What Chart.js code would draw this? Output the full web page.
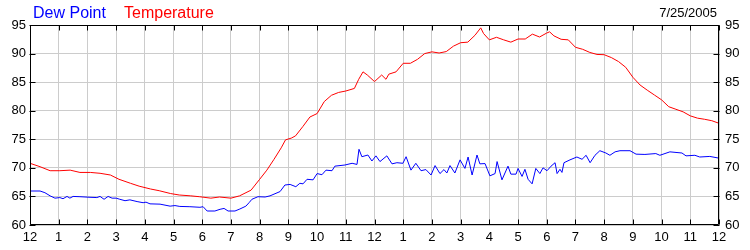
<!DOCTYPE html>
<html>
<head>
<meta charset="utf-8">
<style>
html,body{margin:0;padding:0;background:#fff;}
#wrap{width:750px;height:250px;}
</style>
<script src="https://cdn.jsdelivr.net/npm/chart.js@4/dist/chart.umd.min.js"></script>
</head>
<body>
<div id="wrap"><canvas id="c" width="750" height="250"></canvas></div>
<script>
const dateLabel = '7/25/2005';
const seriesNames = ['Dew Point', 'Temperature'];
const hourTicks = [0,1,2,3,4,5,6,7,8,9,10,11,12,13,14,15,16,17,18,19,20,21,22,23,24];
const yTicks = [60,65,70,75,80,85,90,95];

const tempHours = [0,0.35,0.7,1.04,1.4,1.74,2.1,2.44,2.8,3.1,3.5,3.8,4.2,4.5,4.9,5.2,5.6,5.9,6.3,6.6,7.0,7.3,7.7,8.0,8.25,8.5,8.75,8.9,9.1,9.25,9.5,9.75,10,10.25,10.5,10.75,11,11.3,11.45,11.6,11.75,12,12.25,12.4,12.5,12.75,13,13.25,13.5,13.75,14,14.25,14.5,14.75,15,15.25,15.5,15.7,15.8,16,16.25,16.5,16.75,17,17.25,17.5,17.75,18,18.1,18.25,18.5,18.75,19,19.25,19.5,19.75,20,20.25,20.5,20.75,21,21.25,21.5,21.75,22,22.25,22.5,22.75,23,23.25,23.5,23.75,24];
const tempValues = [70.8,70.2,69.5,69.5,69.6,69.2,69.2,69.05,68.75,68.0,67.3,66.8,66.3,66.0,65.5,65.25,65.1,64.95,64.7,64.9,64.7,65.1,66.1,68.0,69.6,71.5,73.5,74.9,75.2,75.6,77.2,78.9,79.5,81.6,82.7,83.2,83.45,83.9,85.5,86.8,86.25,85.1,86.25,85.5,86.4,86.8,88.3,88.3,89.0,90.0,90.3,90.1,90.35,91.3,91.9,92.0,93.2,94.5,93.5,92.4,92.85,92.4,92.0,92.55,92.55,93.4,92.9,93.6,93.8,93.1,92.5,92.4,91.1,90.75,90.2,89.85,89.8,89.3,88.6,87.6,85.85,84.5,83.6,82.75,81.9,80.7,80.25,79.8,79.1,78.7,78.5,78.25,77.8];

const dewHours = [0,0.35,0.52,0.7,0.87,1.04,1.15,1.29,1.39,1.5,1.74,2.09,2.33,2.44,2.58,2.72,2.86,3.0,3.13,3.31,3.48,3.73,3.94,4.04,4.18,4.53,4.88,5.05,5.22,5.57,5.92,6.03,6.17,6.44,6.62,6.76,6.9,7.14,7.31,7.52,7.63,7.73,7.94,8.19,8.36,8.71,8.88,9.06,9.26,9.4,9.51,9.65,9.86,10.0,10.17,10.31,10.52,10.62,10.97,11.22,11.39,11.46,11.56,11.77,11.91,12.05,12.19,12.43,12.61,12.78,12.99,13.1,13.27,13.44,13.62,13.79,13.97,14.11,14.28,14.42,14.52,14.63,14.8,14.98,15.15,15.26,15.4,15.57,15.67,15.85,16.02,16.2,16.27,16.44,16.65,16.75,16.93,17.0,17.14,17.24,17.35,17.49,17.62,17.76,17.87,18.01,18.15,18.29,18.36,18.46,18.53,18.6,18.81,19.05,19.23,19.37,19.51,19.68,19.85,20.06,20.2,20.38,20.55,20.9,21.11,21.42,21.8,21.94,22.29,22.71,22.85,23.16,23.33,23.68,24];
const dewValues = [65.95,65.95,65.65,65.1,64.7,64.8,64.6,65.0,64.7,65.0,64.95,64.85,64.8,65.0,64.5,65.0,64.7,64.7,64.5,64.25,64.4,64.1,63.9,64.0,63.7,63.65,63.3,63.4,63.25,63.2,63.1,63.2,62.45,62.45,62.75,62.9,62.45,62.45,62.8,63.3,63.9,64.5,64.95,64.9,65.1,65.85,67.0,67.1,66.7,67.3,67.2,68.0,67.9,69.0,68.8,69.6,69.5,70.3,70.5,70.8,70.6,73.25,71.95,72.25,71.2,72.1,71.1,72.1,70.7,70.9,70.8,71.95,69.6,70.8,69.5,69.7,68.75,70.4,69.0,69.7,69.1,70.4,69.1,71.4,69.9,71.9,68.75,72.25,70.7,70.75,68.6,69.0,71.1,67.9,70.3,68.9,68.9,69.9,68.5,69.75,68.0,67.2,69.9,69.0,70.0,69.5,70.3,70.9,69.0,69.75,69.2,70.9,71.4,71.9,71.5,72.2,70.9,72.2,73.0,72.6,72.2,72.8,73.0,73.0,72.4,72.35,72.5,72.2,72.8,72.6,72.1,72.2,71.9,72.0,71.7];

const FONT = '"Liberation Sans", Arial, sans-serif';
const toXY = (hs, vs) => hs.map((h, i) => ({x: h, y: vs[i]}));

const frame = {
  id: 'frame',
  afterDraw(chart) {
    const ctx = chart.ctx, a = chart.chartArea;
    const xs = chart.scales.x, ys = chart.scales.y;
    ctx.save();
    ctx.strokeStyle = '#000';
    ctx.lineWidth = 1;
    const L = Math.round(a.left) + 0.5, R = Math.round(a.right) - 0.5;
    const T = Math.round(a.top) + 0.5, B = Math.round(a.bottom) - 0.5;
    ctx.beginPath();
    ctx.rect(L, T, R - L, B - T);
    hourTicks.forEach(h => {
      const px = Math.round(xs.getPixelForValue(h)) + 0.5;
      ctx.moveTo(px, T); ctx.lineTo(px, T + 5);
      ctx.moveTo(px, B); ctx.lineTo(px, B - 5);
    });
    yTicks.forEach(v => {
      const py = Math.round(ys.getPixelForValue(v)) + 0.5;
      ctx.moveTo(L - 1, py); ctx.lineTo(L + 5, py);
      ctx.moveTo(R + 1, py); ctx.lineTo(R - 5, py);
    });
    ctx.stroke();
    ctx.textBaseline = 'alphabetic';
    ctx.font = '16px ' + FONT;
    ctx.textAlign = 'left';
    ctx.fillStyle = '#0000ff';
    ctx.fillText(seriesNames[0], 33, 18);
    ctx.fillStyle = '#ff0000';
    ctx.fillText(seriesNames[1], 124, 18);
    ctx.font = '13px ' + FONT;
    ctx.fillStyle = '#000';
    ctx.textAlign = 'right';
    ctx.fillText(dateLabel, 717, 17);
    ctx.restore();
  }
};

new Chart(document.getElementById('c'), {
  type: 'line',
  data: {
    datasets: [
      {label: seriesNames[1], data: toXY(tempHours, tempValues), borderColor: '#ff0000', borderWidth: 1, pointRadius: 0, tension: 0, fill: false},
      {label: seriesNames[0], data: toXY(dewHours, dewValues), borderColor: '#0000ff', borderWidth: 1, pointRadius: 0, tension: 0, fill: false}
    ]
  },
  options: {
    responsive: false,
    animation: false,
    events: [],
    layout: {padding: {top: 25, left: 0, right: 0, bottom: 0}},
    plugins: {legend: {display: false}, tooltip: {enabled: false}, title: {display: false}},
    scales: {
      x: {
        type: 'linear', min: 0, max: 24,
        afterFit: s => { s.height = 25; },
        afterBuildTicks: s => { s.ticks = hourTicks.map(v => ({value: v})); },
        grid: {color: '#cccccc', drawTicks: false},
        border: {display: false},
        ticks: {
          padding: 5, color: '#000', font: {family: FONT, size: 13},
          maxRotation: 0, autoSkip: false,
          callback: v => (v % 12 === 0 ? 12 : v % 12)
        }
      },
      y: {
        position: 'left', min: 60, max: 95,
        afterFit: s => { s.width = 30; },
        afterBuildTicks: s => { s.ticks = yTicks.map(v => ({value: v})); },
        grid: {color: '#cccccc', drawTicks: false},
        border: {display: false},
        ticks: {padding: 4, color: '#000', font: {family: FONT, size: 13}}
      },
      y2: {
        position: 'right', min: 60, max: 95,
        afterFit: s => { s.width = 31; },
        afterBuildTicks: s => { s.ticks = yTicks.map(v => ({value: v})); },
        grid: {display: false, drawTicks: false},
        border: {display: false},
        ticks: {padding: 6, color: '#000', font: {family: FONT, size: 13}}
      }
    }
  },
  plugins: [frame]
});
</script>
</body>
</html>
